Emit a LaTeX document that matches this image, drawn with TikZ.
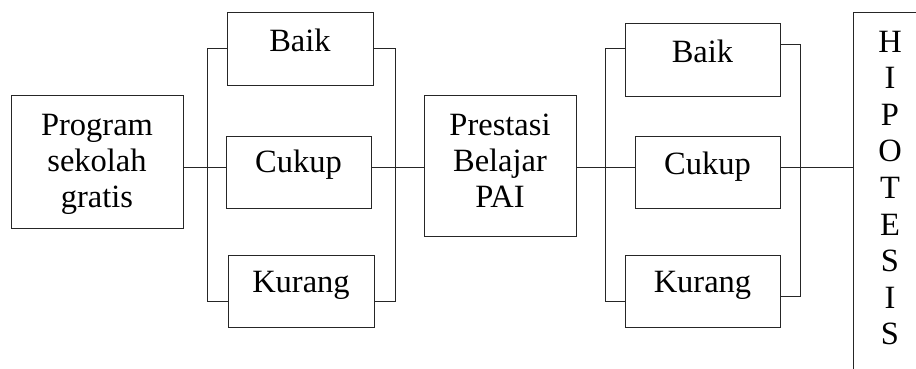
\documentclass[tikz,border=0pt]{standalone}
\usepackage{fontspec}
\setmainfont{Liberation Serif}
\begin{document}
\begin{tikzpicture}[x=1pt,y=1pt,
  line width=0.8pt,
  box/.style={draw=black!85, rectangle, inner sep=0pt},
  txt/.style={inner sep=0pt, font=\fontsize{32.5}{36}\selectfont, align=center},
  conn/.style={draw=black!85}]
\clip (0,0) rectangle (916,369);
\useasboundingbox (0,0) rectangle (916,369);
% boxes
\node[box, minimum width=172, minimum height=133] (prog) at (97,207.5) {};
\node[box, minimum width=146, minimum height=73] (b1) at (300,320.5) {};
\node[box, minimum width=145, minimum height=72] (c1) at (298.5,197) {};
\node[box, minimum width=146, minimum height=72] (k1) at (301,78) {};
\node[box, minimum width=152, minimum height=141] (pr) at (500,203.5) {};
\node[box, minimum width=155, minimum height=73] (b2) at (702.5,309.5) {};
\node[box, minimum width=145, minimum height=72] (c2) at (707.5,197) {};
\node[box, minimum width=155, minimum height=72] (k2) at (702.5,78) {};
\node[box, minimum width=107, minimum height=377] (hip) at (906.5,168.5) {};
% texts
\node[txt, anchor=north] (progt) at (97,255.5) {Program\\sekolah\\gratis};
\node[txt, anchor=base] (b1t) at (300,317) {Baik};
\node[txt, anchor=base] (c1t) at (298.5,196) {Cukup};
\node[txt, anchor=base] (k1t) at (301,76) {Kurang};
\node[txt, anchor=north] (prt) at (500,255.5) {Prestasi\\Belajar\\PAI};
\node[txt, anchor=base] (b2t) at (702.5,306) {Baik};
\node[txt, anchor=base] (c2t) at (707.5,194) {Cukup};
\node[txt, anchor=base] (k2t) at (702.5,76) {Kurang};
\node[txt, anchor=north, font=\fontsize{32.5}{36.6}\selectfont] (hipt) at (890,338.5) {H\\I\\P\\O\\T\\E\\S\\I\\S};
% helper coordinates
\coordinate (mid) at (0,202);
\coordinate (l1t) at (207,321);
\coordinate (l1b) at (207,68);
\coordinate (r1t) at (395,321);
\coordinate (r1b) at (395,68);
\coordinate (l2t) at (605,321);
\coordinate (l2b) at (605,68);
\coordinate (r2t) at (800,325);
\coordinate (r2b) at (800,73);
% main line
\draw[conn] (prog.east |- mid) -- (c1.west |- mid);
\draw[conn] (c1.east |- mid) -- (pr.west |- mid);
\draw[conn] (pr.east |- mid) -- (c2.west |- mid);
\draw[conn] (c2.east |- mid) -- (hip.west |- mid);
% brackets
\draw[conn] (b1.west |- l1t) -- (l1t) -- (l1b) -- (k1.west |- l1b);
\draw[conn] (b1.east |- r1t) -- (r1t) -- (r1b) -- (k1.east |- r1b);
\draw[conn] (b2.west |- l2t) -- (l2t) -- (l2b) -- (k2.west |- l2b);
\draw[conn] (b2.east |- r2t) -- (r2t) -- (r2b) -- (k2.east |- r2b);
\end{tikzpicture}
\end{document}
